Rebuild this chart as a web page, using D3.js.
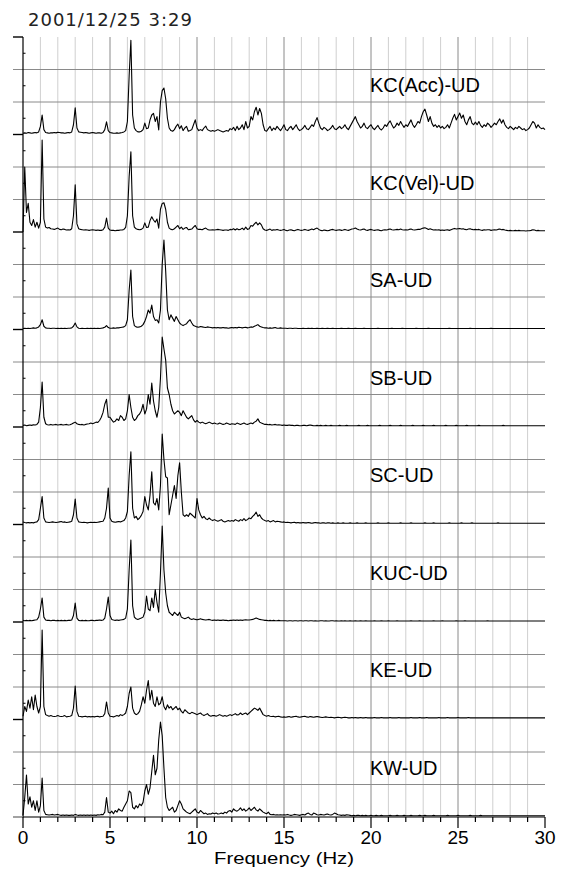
<!DOCTYPE html>
<html>
<head>
<meta charset="utf-8">
<script src="https://cdn.jsdelivr.net/npm/d3@7"></script>
<style>
  html, body { margin: 0; padding: 0; background: #fff; }
  svg { display: block; }
</style>
</head>
<body>
<script>
// Fourier amplitude spectra, vertical component, one record per station.
// Amplitudes are relative: 100 = one grid division, each panel spans 300.
const recordTime = "2001/12/25 3:29";
const stations = ["KC(Acc)-UD", "KC(Vel)-UD", "SA-UD", "SB-UD", "SC-UD", "KUC-UD", "KE-UD", "KW-UD"];
const freqStep = 0.1;              // Hz between samples, first sample at 0 Hz
const freqTicks = [0, 5, 10, 15, 20, 25, 30];

const ampKCAcc = [
  4,5,4,6,5,4,5,6,5,8,
  25,60,15,6,5,4,5,5,6,5,
  7,6,5,5,4,5,6,5,8,30,
  82,20,8,7,6,5,6,5,4,5,
  6,5,4,5,5,4,6,15,39,12,
  6,5,4,4,5,4,5,6,8,12,
  40,180,290,60,20,12,8,8,10,15,
  35,18,20,45,60,65,40,55,14,100,
  135,143,110,50,20,12,10,15,25,32,
  18,27,12,20,25,10,12,15,30,45,
  20,12,15,12,20,26,15,12,10,12,
  10,12,15,12,10,8,10,12,10,18,
  15,22,12,25,15,20,30,15,40,20,
  25,55,45,70,84,60,80,65,30,12,
  10,18,25,12,20,15,25,18,12,20,
  30,15,12,20,25,15,22,30,18,12,
  15,20,28,18,15,22,30,25,40,52,
  35,20,15,22,18,12,15,20,28,18,
  15,20,25,18,22,30,20,15,25,35,
  45,55,40,30,20,25,35,22,18,25,
  30,20,15,22,28,18,14,20,30,25,
  35,42,30,20,25,35,28,40,30,22,
  30,25,35,45,30,22,30,40,35,55,
  70,78,60,40,55,35,25,30,22,28,
  20,25,18,22,30,20,35,50,62,45,
  55,66,50,60,40,30,45,55,35,30,
  38,30,40,28,22,30,25,35,30,22,
  28,35,30,40,48,35,45,30,22,18,
  25,20,15,22,18,25,20,15,18,12,
  15,20,30,40,35,20,30,22,18,20,
  15
];

const ampKCVel = [
  0,200,60,88,30,20,38,15,30,12,
  30,283,40,15,12,14,10,9,8,10,
  12,8,7,9,8,6,7,6,10,50,
  145,25,10,8,7,6,7,6,5,6,
  7,6,5,6,5,5,7,15,43,12,
  6,5,5,4,5,5,6,6,8,14,
  50,170,247,50,15,10,8,7,8,12,
  28,14,15,35,47,37,30,40,12,70,
  88,90,70,30,12,8,7,10,15,20,
  10,15,8,12,14,7,8,9,15,20,
  10,8,8,7,10,12,8,6,6,7,
  6,7,8,7,6,5,6,6,5,8,
  7,10,6,10,7,8,12,7,15,8,
  10,20,18,25,30,22,28,22,10,6,
  5,7,9,5,7,6,8,6,5,6,
  8,5,4,6,7,5,4,6,8,6,
  5,6,8,6,5,7,9,7,10,12,
  8,5,4,6,5,4,5,7,8,6,
  5,6,7,5,6,8,6,5,7,9,
  10,12,9,7,6,8,9,6,5,7,
  8,6,5,6,7,5,4,6,7,6,
  8,9,7,6,7,8,7,9,7,6,
  7,6,8,9,7,6,7,8,8,10,
  12,13,11,8,10,8,6,7,6,7,
  5,6,5,6,7,5,7,9,11,9,
  10,11,9,10,8,7,9,10,8,7,
  8,7,8,6,5,7,6,7,7,5,
  6,7,6,8,9,7,8,6,5,4,
  5,4,4,5,4,5,4,4,4,3,
  4,4,5,7,6,4,5,4,4,4,
  4
];

const ampSA = [
  3,4,3,4,3,4,5,4,5,8,
  15,30,10,5,4,4,3,4,4,3,
  4,3,4,3,4,3,4,4,5,10,
  20,8,4,3,4,3,3,4,3,4,
  3,4,3,4,3,4,5,7,12,6,
  4,4,5,4,5,5,6,7,8,12,
  30,120,183,40,12,8,7,8,10,15,
  25,40,60,50,75,40,28,30,20,60,
  200,275,180,60,30,45,35,25,40,30,
  20,15,12,15,18,25,30,20,12,10,
  8,7,9,8,7,6,8,7,6,5,
  6,5,6,5,5,6,5,5,4,5,
  6,5,6,5,7,6,5,6,7,5,
  6,8,7,10,12,15,10,8,6,5,
  5,4,5,4,5,6,4,4,5,4,
  4,4,3,4,4,3,4,4,3,3,
  3,4,3,3,4,3,4,3,3,4,
  3,3,4,3,3,4,3,3,4,3,
  3,3,3,4,3,3,3,4,3,3,
  3,4,3,3,3,3,4,3,3,3,
  3,3,3,3,4,3,3,3,3,3,
  3,3,4,3,3,3,3,3,4,3,
  3,3,3,3,3,3,4,3,3,3,
  3,3,3,4,3,3,3,3,3,3,
  3,3,3,3,3,4,3,3,3,3,
  3,3,3,3,3,3,3,4,3,3,
  3,3,3,3,3,3,3,3,3,4,
  3,3,3,3,3,3,3,3,3,3,
  3,3,3,3,3,3,3,3,3,3,
  3,3,3,3,3,3,3,3,3,3,
  3
];

const ampSB = [
  5,6,4,5,6,5,7,6,8,15,
  60,138,30,10,7,6,8,6,7,8,
  6,7,8,6,7,8,6,7,9,12,
  15,10,8,7,8,6,8,9,10,12,
  10,12,15,14,20,30,45,70,85,30,
  30,22,15,18,25,20,35,30,20,25,
  50,100,60,30,20,25,35,40,50,70,
  40,55,100,70,135,80,50,30,60,150,
  277,240,206,120,100,70,50,40,45,50,
  45,35,50,40,30,25,30,35,22,15,
  20,15,12,15,12,10,12,15,12,10,
  12,10,9,12,10,8,9,12,10,8,
  10,9,8,12,10,8,10,12,9,8,
  10,12,10,15,18,25,15,12,10,8,
  8,7,8,6,7,8,6,7,6,5,
  6,5,5,6,5,5,4,5,5,4,
  4,5,5,4,5,6,5,4,4,5,
  4,5,4,4,5,4,4,5,4,4,
  4,4,5,4,4,4,5,4,4,4,
  4,4,4,5,4,4,4,4,5,4,
  4,4,4,4,4,5,4,4,4,4,
  4,5,4,4,4,4,4,5,4,4,
  4,4,4,4,5,4,4,4,4,4,
  5,4,4,4,4,4,5,4,4,4,
  4,4,4,5,4,4,4,4,4,5,
  4,4,4,4,4,5,4,4,4,4,
  4,4,5,4,4,4,4,4,4,4,
  4,4,4,4,4,4,5,4,4,4,
  4,4,4,4,4,4,4,4,4,4,
  4,4,4,4,4,4,4,4,4,4,
  4
];

const ampSC = [
  8,6,5,6,5,6,5,7,8,15,
  50,86,20,8,7,6,7,8,7,6,
  7,8,9,7,8,6,7,8,10,30,
  78,20,8,7,6,7,6,5,6,7,
  6,7,6,7,8,9,10,20,50,112,
  20,10,8,7,8,9,8,10,12,20,
  40,150,224,50,20,25,15,20,28,40,
  86,60,45,90,162,67,60,80,45,120,
  278,200,147,143,30,60,90,120,80,150,
  190,100,30,25,30,25,35,30,25,20,
  80,45,30,20,25,18,15,20,15,12,
  15,12,10,12,15,10,8,10,12,10,
  12,10,15,12,10,15,12,18,12,15,
  20,18,25,30,38,25,30,20,15,12,
  10,12,8,10,12,8,10,9,8,7,
  8,6,7,6,5,6,7,5,6,5,
  5,6,5,5,6,5,4,5,6,5,
  5,4,5,5,4,5,5,4,5,4,
  4,5,4,4,5,4,4,4,5,4,
  4,4,5,4,4,4,4,5,4,4,
  4,4,4,4,5,4,4,4,4,4,
  5,4,4,4,4,4,4,5,4,4,
  4,4,4,5,4,4,4,4,4,4,
  4,5,4,4,4,4,5,4,4,4,
  4,4,4,4,4,5,4,4,4,4,
  4,4,5,4,4,4,4,4,5,4,
  4,4,4,4,4,4,4,4,4,4,
  4,4,4,5,4,4,4,4,4,4,
  4,4,4,4,4,4,4,4,4,4,
  4,4,4,4,4,4,4,4,4,4,
  4
];

const ampKUC = [
  5,4,5,4,5,4,5,6,7,15,
  40,74,15,6,5,5,4,5,5,4,
  5,4,5,4,5,4,5,5,6,20,
  58,12,5,4,5,4,5,4,4,5,
  5,4,5,5,6,5,6,12,40,77,
  20,8,6,5,6,5,6,7,8,12,
  40,160,252,50,15,10,8,10,12,15,
  30,80,40,35,74,45,100,60,30,150,
  295,160,90,50,30,25,20,30,25,20,
  30,15,12,10,12,15,10,8,10,8,
  7,8,10,8,7,6,7,8,6,5,
  6,5,6,5,5,6,5,5,4,5,
  5,6,5,6,5,6,5,6,7,6,
  6,7,8,10,12,10,8,7,6,5,
  5,4,5,4,5,4,4,5,4,4,
  4,4,3,4,4,3,4,4,3,4,
  4,3,4,4,3,4,4,3,4,3,
  3,4,4,3,4,3,3,4,4,3,
  4,3,3,4,3,4,3,3,4,3,
  3,4,3,3,4,3,3,4,3,3,
  3,3,4,3,3,3,4,3,3,3,
  4,3,3,3,3,4,3,3,3,3,
  3,3,3,4,3,3,3,3,4,3,
  3,3,3,3,3,3,4,3,3,3,
  3,4,3,3,3,3,3,3,3,4,
  3,3,3,3,4,3,3,3,3,3,
  3,3,3,3,3,3,3,4,3,3,
  3,3,3,3,3,3,3,3,3,3,
  3,3,3,3,3,3,3,3,3,3,
  3,3,3,3,3,3,3,3,3,3,
  3
];

const ampKE = [
  10,40,25,60,35,70,30,75,40,20,
  40,275,40,15,12,10,12,10,9,10,
  12,10,9,10,12,8,9,10,12,35,
  103,25,10,9,8,9,10,8,9,8,
  9,8,9,10,8,9,10,18,54,20,
  10,9,8,10,12,10,15,12,15,20,
  40,80,100,35,20,15,18,25,45,70,
  50,90,120,60,90,50,40,70,45,50,
  70,40,30,45,35,40,30,35,40,30,
  35,25,20,30,25,20,18,22,20,18,
  15,18,20,15,12,15,18,12,10,12,
  12,10,12,15,12,10,12,10,12,15,
  12,15,18,14,15,20,15,18,20,15,
  20,25,30,35,32,28,35,25,15,12,
  10,12,10,9,10,8,9,10,8,7,
  8,7,8,9,7,8,9,10,8,7,
  8,9,10,8,7,9,8,7,8,9,
  8,7,6,7,8,7,6,7,6,5,
  6,7,6,5,6,7,6,5,5,6,
  5,6,5,5,6,5,5,6,5,5,
  5,5,6,5,5,5,6,5,5,5,
  5,6,5,5,5,5,6,5,5,5,
  5,5,5,6,5,5,5,5,6,5,
  5,5,6,5,5,5,5,5,5,6,
  5,5,5,5,6,5,5,5,5,5,
  6,5,5,5,5,5,6,5,5,5,
  5,5,5,5,5,5,5,5,5,5,
  5,5,5,5,5,5,5,5,5,5,
  5,5,5,5,5,5,5,5,5,5,
  5,5,5,5,5,5,5,5,5,5,
  5
];

const ampKW = [
  5,60,129,40,62,30,50,20,50,15,
  35,120,20,8,7,6,7,8,6,7,
  8,6,5,6,5,6,5,5,6,5,
  8,6,5,6,5,6,5,6,5,6,
  5,6,5,7,6,8,7,15,60,15,
  12,18,10,20,15,25,20,18,30,40,
  50,80,75,30,25,35,28,40,35,45,
  80,100,70,90,140,190,130,150,237,292,
  250,150,60,30,20,25,30,15,20,35,
  50,40,25,20,15,12,10,15,20,25,
  15,12,20,15,10,12,8,10,9,12,
  10,12,9,10,12,10,15,12,18,20,
  15,25,20,18,22,28,20,25,18,22,
  28,20,25,30,22,18,25,20,15,12,
  10,15,8,7,8,6,7,6,7,6,
  7,6,8,6,5,6,8,7,6,5,
  7,8,6,10,12,8,6,12,10,7,
  6,8,7,6,8,9,7,6,8,12,
  10,7,6,5,6,5,7,6,5,4,
  5,4,5,5,4,5,4,5,4,4,
  5,4,4,5,4,4,5,4,4,4,
  4,5,4,4,4,5,4,4,4,5,
  4,4,4,5,4,4,4,4,5,4,
  4,5,4,4,4,4,5,4,4,4,
  4,4,4,4,5,4,4,4,4,4,
  5,4,4,4,4,4,4,5,4,4,
  4,4,4,5,4,4,4,4,4,4,
  4,4,4,4,4,4,4,4,4,4,
  4,4,4,4,4,4,4,4,4,4,
  4,4,4,4,4,4,4,4,4,4,
  4
];

const spectra = [ampKCAcc, ampKCVel, ampSA, ampSB, ampSC, ampKUC, ampKE, ampKW];

// ---- layout ----
const W = 563, H = 872;
const plotLeft = 23, plotRight = 545, plotTop = 37, panelH = 97.5;
const nPanels = stations.length;
const plotBottom = plotTop + nPanels * panelH;
const ampMax = 300;

const svg = d3.select("body").append("svg")
  .attr("width", W).attr("height", H)
  .style("background", "#fff");

const x = d3.scaleLinear().domain([0, 30]).range([plotLeft, plotRight]);
const panelY = stations.map((_, k) =>
  d3.scaleLinear().domain([0, ampMax]).range([plotTop + (k + 1) * panelH, plotTop + k * panelH]));

// vertical grid: every 1 Hz, darker every 5 Hz
const gGrid = svg.append("g");
gGrid.selectAll("line.vg")
  .data(d3.range(1, 30))
  .join("line")
  .attr("x1", d => x(d)).attr("x2", d => x(d))
  .attr("y1", plotTop).attr("y2", plotBottom)
  .attr("stroke", d => d % 5 === 0 ? "#8a8a8a" : "#cfcfcf")
  .attr("stroke-width", 1);

// horizontal grid inside every panel
panelY.forEach(y => {
  gGrid.selectAll(null)
    .data([100, 200])
    .join("line")
    .attr("x1", plotLeft - 10).attr("x2", plotRight)
    .attr("y1", d => y(d)).attr("y2", d => y(d))
    .attr("stroke", "#8a8a8a").attr("stroke-width", 1);
});

// bottom axis line
svg.append("line")
  .attr("x1", plotLeft).attr("x2", plotRight)
  .attr("y1", plotBottom).attr("y2", plotBottom)
  .attr("stroke", "#7a7a7a").attr("stroke-width", 2);

// spectra
const line = d3.line()
  .x((d, i) => x(i * freqStep));
spectra.forEach((amp, k) => {
  const y = panelY[k];
  svg.append("path")
    .datum(amp)
    .attr("d", line.y(d => y(d)))
    .attr("fill", "none")
    .attr("stroke", "#000")
    .attr("stroke-width", 1.1)
    .attr("stroke-linejoin", "round");
});

// left axis with panel ticks
const gLeft = svg.append("g");
gLeft.append("line")
  .attr("x1", plotLeft).attr("x2", plotLeft)
  .attr("y1", plotTop).attr("y2", plotBottom + 0.5)
  .attr("stroke", "#000").attr("stroke-width", 1.2);
panelY.forEach((y, k) => {
  gLeft.selectAll(null)
    .data(k === 0 ? [0, ampMax] : [0])
    .join("line")
    .attr("x1", plotLeft - 10).attr("x2", plotLeft)
    .attr("y1", d => y(d)).attr("y2", d => y(d))
    .attr("stroke", k === nPanels - 1 ? "#7a7a7a" : "#000")
    .attr("stroke-width", 1.4);
  gLeft.selectAll(null)
    .data([50, 150, 250])
    .join("line")
    .attr("x1", plotLeft).attr("x2", plotLeft + 2.5)
    .attr("y1", d => y(d)).attr("y2", d => y(d))
    .attr("stroke", "#000").attr("stroke-width", 1);
});

// bottom ticks and labels
const gBottom = svg.append("g");
gBottom.selectAll("line")
  .data(d3.range(0, 31))
  .join("line")
  .attr("x1", d => x(d)).attr("x2", d => x(d))
  .attr("y1", plotBottom).attr("y2", d => plotBottom + (d % 5 === 0 ? 11 : 5))
  .attr("stroke", "#000").attr("stroke-width", 1.2);
gBottom.selectAll("text")
  .data(freqTicks)
  .join("text")
  .attr("x", d => x(d)).attr("y", 844)
  .attr("text-anchor", "middle")
  .attr("font-family", "Liberation Sans, Arial, sans-serif")
  .attr("font-size", 19)
  .attr("fill", "#000")
  .text(d => d);
svg.append("text")
  .attr("x", 284).attr("y", 864)
  .attr("text-anchor", "middle")
  .attr("font-family", "Liberation Sans, Arial, sans-serif")
  .attr("font-size", 17)
  .attr("textLength", 140)
  .attr("lengthAdjust", "spacingAndGlyphs")
  .attr("fill", "#000")
  .text("Frequency (Hz)");

// station names
svg.selectAll("text.station")
  .data(stations)
  .join("text")
  .attr("class", "station")
  .attr("x", 370)
  .attr("y", (d, k) => plotTop + k * panelH + 55)
  .attr("font-family", "Liberation Sans, Arial, sans-serif")
  .attr("font-size", 20)
  .attr("fill", "#000")
  .text(d => d);

// record time
svg.append("text")
  .attr("x", 28).attr("y", 26)
  .attr("font-family", "DejaVu Sans, Verdana, sans-serif")
  .attr("font-size", 18)
  .attr("letter-spacing", 1)
  .attr("fill", "#222")
  .text(recordTime);
</script>
</body>
</html>
